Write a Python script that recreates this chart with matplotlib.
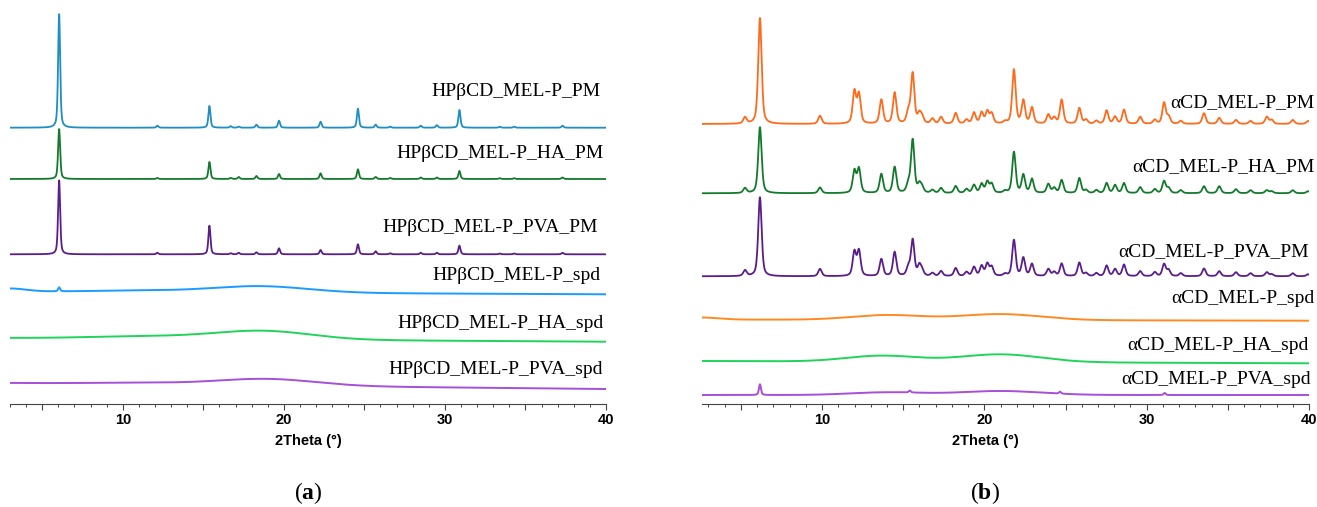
import matplotlib
matplotlib.use('Agg')
import matplotlib.pyplot as plt
from matplotlib.ticker import MultipleLocator, FuncFormatter
import numpy as np

plt.rcParams['mathtext.fontset'] = 'custom'
plt.rcParams['mathtext.rm'] = 'Liberation Serif'
plt.rcParams['mathtext.bf'] = 'Liberation Serif:bold'

# ---- panel (a): HPbCD samples -------------------------------------------
a_names = ['HPβCD_MEL-P_PM', 'HPβCD_MEL-P_HA_PM', 'HPβCD_MEL-P_PVA_PM',
           'HPβCD_MEL-P_spd', 'HPβCD_MEL-P_HA_spd', 'HPβCD_MEL-P_PVA_spd']
a_colors = ['#1f8ec0', '#137a2c', '#5a1d8a', '#1a9bff', '#20d35a', '#a54fdb']

# crystalline reflections (2theta) shared by the physical mixtures
a_peak_pos = [6.05, 12.15, 15.38, 16.7, 17.2, 18.3, 19.7, 22.28, 24.6, 25.7,
              26.6, 28.5, 29.5, 30.9, 33.4, 34.3, 37.3]
a_pm_h = [113.7, 2, 21.7, 1.5, 1, 3, 7, 6, 19, 3, 1, 2, 2.5, 17.7, 1, 1, 2]
a_ha_pm_h = [50, 1, 17, 1, 2, 3, 5, 5.7, 9.7, 2, 1, 1.5, 1.5, 8, 0.8, 0.8, 1.5]
a_pva_pm_h = [74, 1.5, 28.6, 1, 1.5, 2, 6, 4.3, 10, 3, 1, 1.5, 1.5, 8.7, 0.8, 0.8, 1.5]
a_pm_offsets = [276.3, 225.0, 149.7]

# amorphous (spray dried) halos: baseline start/end, hump centre/height/sigma
a_spd_base = [(112.5, 109.7), (66.0, 62.3), (21.0, 15.0)]
a_spd_hump_pos = [[3.0, 11.0, 18.5], [11.5, 18.7], [11.5, 19.0]]
a_spd_hump_h = [[3.0, 1.5, 6.5], [2.5, 8.6], [1.5, 6.6]]
a_spd_hump_w = [[1.0, 3.0, 3.0], [3.5, 3.0], [3.5, 3.0]]
a_spd_sharp_pos = [[6.05], [], []]
a_spd_sharp_h = [[4.0], [], []]

# ---- panel (b): aCD samples ---------------------------------------------
b_names = ['αCD_MEL-P_PM', 'αCD_MEL-P_HA_PM', 'αCD_MEL-P_PVA_PM',
           'αCD_MEL-P_spd', 'αCD_MEL-P_HA_spd', 'αCD_MEL-P_PVA_spd']
b_colors = ['#ff6a1c', '#137a2c', '#5a1d8a', '#ff8a22', '#20d35a', '#a54fdb']

b_peak_pos = [5.25, 6.17, 9.87, 11.99, 12.27, 13.65, 14.47, 15.31, 15.58, 15.99,
              16.16, 16.8, 17.33, 18.23, 18.9, 19.36, 19.83, 20.18, 20.45, 21.27,
              21.82, 22.4, 22.93, 23.94, 24.3, 24.76, 25.85, 26.26, 26.9, 27.53,
              28.05, 28.6, 29.6, 30.5, 31.07, 31.35, 32.1, 33.53, 34.47, 35.5,
              36.4, 37.4, 37.7, 39.0, 39.94]
b_pm_h = [6.3, 106, 8, 32, 29, 24, 31, 11, 50, 9, 6, 5, 6.7, 10.7, 4, 11, 11, 12,
          10, 2, 54, 23, 16, 9, 6, 24, 15.7, 4, 3, 13.3, 7, 14, 7, 4, 21, 7, 3,
          10.7, 6, 4, 3, 7, 4, 4, 3]
b_ha_pm_h = [5, 66, 5.7, 22, 24, 19, 26, 8, 53, 8, 5, 3, 5, 7, 4, 8, 9, 11,
             9, 2, 41, 18, 14, 9, 5, 13, 15, 3, 3, 10, 8, 10, 6, 4, 12, 5, 3,
             7, 7, 4, 3, 3, 2, 3, 2]
b_pva_pm_h = [5.7, 79, 7.3, 24, 25, 17, 24, 8, 36, 10, 5, 3, 5, 8, 4, 9, 10, 12,
              9, 2, 36, 18, 12, 7, 4, 12.5, 13.5, 3, 3, 10.5, 7, 11.5, 5, 4, 12, 6, 3,
              7.7, 5, 4, 3, 4, 2, 3, 2]
b_pm_offsets = [280.0, 210.7, 127.7]

b_spd_base = [(84.5, 83.3), (43.0, 40.7), (9.0, 9.0)]
b_spd_hump_pos = [[2.6, 14.0, 21.0], [13.7, 21.0], [14.0, 21.0]]
b_spd_hump_h = [[2.0, 4.8, 6.0], [6.0, 7.8], [2.7, 4.0]]
b_spd_hump_w = [[1.0, 2.2, 2.5], [2.2, 2.5], [2.2, 2.5]]
b_spd_sharp_pos = [[], [], [6.17, 15.4, 24.66, 31.1]]
b_spd_sharp_h = [[], [], [10.7, 2, 2, 2]]

# label anchor points (right edge, centre) in data coords
a_label_x = [39.69, 39.88, 39.5, 39.69, 39.88, 39.81]
a_label_y = [312, 250, 176, 128, 81, 35]
b_label_x = [40.32, 40.32, 40.0, 40.32, 40.0, 40.1]
b_label_y = [301.3, 237.3, 152.3, 105.7, 58.3, 24]


def pvoigt(x, pos, heights, fwhm, eta=0.5):
    y = np.zeros_like(x)
    for p, h in zip(pos, heights):
        d = (x - p) / (fwhm / 2)
        y += h * (eta / (1 + d ** 2) + (1 - eta) * np.exp(-np.log(2) * d ** 2))
    return y


def halo(x, base, hpos, hh, hw):
    y = np.interp(x, [x[0], x[-1]], list(base))
    for p, h, w in zip(hpos, hh, hw):
        y += h * np.exp(-0.5 * ((x - p) / w) ** 2)
    return y


fig = plt.figure(figsize=(13.17, 5.07), dpi=100)
ax_a = fig.add_axes([10 / 1317, 1 - 404 / 507, 596 / 1317, 400 / 507])
ax_b = fig.add_axes([702 / 1317, 1 - 404 / 507, 607 / 1317, 400 / 507])


def draw_panel(ax, x0, names, colors, pos, pm_h, offsets, fwhm,
               spd_base, hpos, hh, hw, spos, sh, lx, ly):
    x = np.linspace(x0, 40, 4000)
    for h, off, c in zip(pm_h, offsets, colors[:3]):
        ax.plot(x, off + pvoigt(x, pos, h, fwhm), color=c, lw=1.3)
    for i in range(3):
        y = halo(x, spd_base[i], hpos[i], hh[i], hw[i])
        y += pvoigt(x, spos[i], sh[i], 0.15)
        ax.plot(x, y, color=colors[3 + i], lw=1.4)
    for name, tx, ty in zip(names, lx, ly):
        ax.text(tx, ty, name, ha='right', va='center', fontsize=14,
                family='Liberation Serif', color='black', clip_on=False)

    ax.set_xlim(x0, 40)
    ax.set_ylim(0, 400)
    for s in ['left', 'right', 'top']:
        ax.spines[s].set_visible(False)
    ax.spines['bottom'].set_color('#444444')
    ax.set_yticks([])
    ax.xaxis.set_major_locator(MultipleLocator(5))
    ax.xaxis.set_minor_locator(MultipleLocator(1))
    ax.xaxis.set_major_formatter(
        FuncFormatter(lambda v, p: f'{v:.0f}' if v % 10 == 0 else ''))
    ax.tick_params(axis='x', which='major', length=4.5, width=0.8,
                   color='#444444', labelsize=10.5, pad=2)
    ax.tick_params(axis='x', which='minor', length=2.2, width=0.7, color='#444444')
    for lab in ax.get_xticklabels():
        lab.set_fontweight('bold')
        lab.set_family('Liberation Sans')
    ax.set_xlabel('2Theta (°)', fontsize=10.5, fontweight='bold',
                  family='Liberation Sans', labelpad=2)


draw_panel(ax_a, 3, a_names, a_colors, a_peak_pos,
           [a_pm_h, a_ha_pm_h, a_pva_pm_h], a_pm_offsets, 0.15,
           a_spd_base, a_spd_hump_pos, a_spd_hump_h, a_spd_hump_w,
           a_spd_sharp_pos, a_spd_sharp_h, a_label_x, a_label_y)
draw_panel(ax_b, 2.6, b_names, b_colors, b_peak_pos,
           [b_pm_h, b_ha_pm_h, b_pva_pm_h], b_pm_offsets, 0.25,
           b_spd_base, b_spd_hump_pos, b_spd_hump_h, b_spd_hump_w,
           b_spd_sharp_pos, b_spd_sharp_h, b_label_x, b_label_y)
ax_b.xaxis.set_label_coords((985 - 702) / 607, -0.075)
ax_a.xaxis.set_label_coords(0.5, -0.075)

fig.text(308 / 1317, 1 - 493 / 507, r'($\mathbf{a}$)', ha='center', va='center',
         fontsize=17, family='Liberation Serif')
fig.text(985 / 1317, 1 - 493 / 507, r'($\mathbf{b}$)', ha='center', va='center',
         fontsize=17, family='Liberation Serif')

fig.savefig('out.png', dpi=100)
